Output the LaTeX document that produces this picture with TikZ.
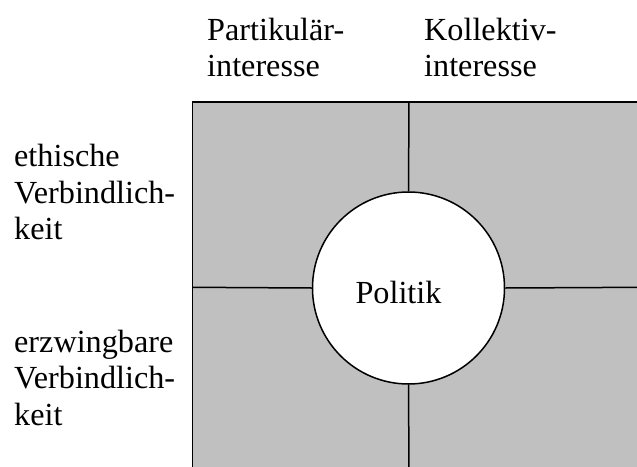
\documentclass[tikz,border=0pt]{standalone}
\usepackage{fontspec}
\setmainfont{Liberation Serif}
\definecolor{cellgray}{RGB}{192,192,192}
\begin{document}
\begin{tikzpicture}[x=1pt,y=-1pt,
  lbl/.style={inner sep=0pt,align=left,anchor=base west,font=\fontsize{32.2}{36.4}\selectfont},
  grid/.style={line width=1.5pt}]
\useasboundingbox (0,0) rectangle (637,466);
% shaded area
\fill[cellgray] (192.7,102) rectangle (640,470);
\coordinate (tl) at (192.7,102);
\coordinate (tm) at (409,102);
\coordinate (ml) at (192.7,287.3);
\coordinate (mr) at (640,287.3);
\coordinate (bm) at (409,470);
\coordinate (tr) at (640,102);
\coordinate (bl) at (192.7,470);
\draw[grid,line cap=rect] (bl) -- (tl) -- (tr);
\node[circle,draw,fill=white,line width=1.5pt,minimum size=192pt,inner sep=0pt] (pol) at (408.5,288) {};
\draw[grid] (tm) -- (pol.north);
\draw[grid] (pol.south) -- (bm);
\draw[grid] (ml) -- (pol.west);
\draw[grid] (pol.east) -- (mr);
\node[lbl,anchor=base] (poltext) at (398.5,303) {Politik};
\node[lbl] (partik) at (207,76.7) {Partikulär-\\interesse};
\node[lbl] (kollek) at (424,76.7) {Kollektiv-\\interesse};
\node[lbl] (ethisch) at (14,239.5) {ethische\\Verbindlich-\\keit};
\node[lbl] (erzw) at (14,425) {erzwingbare\\Verbindlich-\\keit};
\end{tikzpicture}
\end{document}
